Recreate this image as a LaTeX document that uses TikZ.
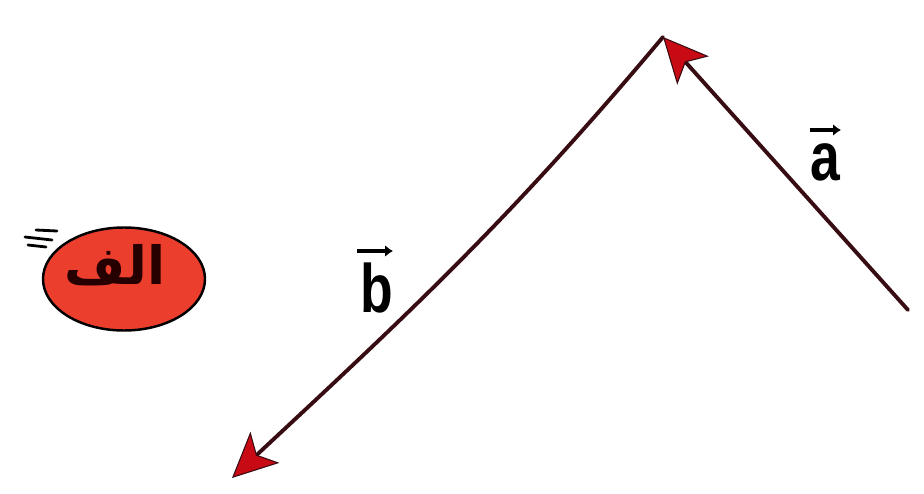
\documentclass[tikz,border=0pt]{standalone}
\usepackage{amsmath}
\usepackage{fontspec}
\usetikzlibrary{arrows.meta,shapes.geometric}
\newfontfamily\arabicfont[Script=Arabic]{DejaVu Sans}
\newfontfamily\labelfont{Liberation Sans}
\TeXXeTstate=1
\definecolor{shaftcol}{RGB}{55,12,18}
\definecolor{headcol}{RGB}{200,10,20}
\definecolor{blobcol}{RGB}{236,62,44}
\tikzset{
  vecline/.style={draw=shaftcol,line width=2.2pt,line cap=round,
    -{Stealth[length=9mm,width=8.5mm,inset=2.2mm,color=shaftcol,fill=headcol,line width=0.6pt]}},
  veclabel/.style={font=\fontsize{39}{40}\selectfont\labelfont\bfseries,text=black,inner sep=0pt},
  vecaccent/.style={line width=2.6pt,-{Latex[length=1.6mm,width=2.4mm]}}
}

\begin{document}
\begin{tikzpicture}[x=0.2mm,y=-0.2mm]
    \useasboundingbox (0,0) rectangle (924,493);
    \coordinate (apex) at (663,37);
    \coordinate (atail) at (908,310);
    \coordinate (bhead) at (232,478);
    \draw[vecline] (atail) -- (apex);
    \draw[vecline] (apex) to[out=230,in=43] (bhead);
    \node[veclabel,anchor=base] (alabel) at (825,180) {\scalebox{0.78}[1]{a}};
    \node[veclabel,anchor=base] (blabel) at (377,312) {\scalebox{0.78}[1]{b}};
    \draw[vecaccent] (810,130) -- (841,130);
    \draw[vecaccent] (357,251) -- (393,251);
    \node[ellipse,draw=black,line width=1.4pt,fill=blobcol,minimum width=162*0.2mm,minimum height=103*0.2mm,inner sep=0pt] (blob) at (124,279) {};
    \node[font=\fontsize{30}{34}\selectfont\arabicfont\bfseries,text=black!85!red,inner sep=0pt] (alef) at (115,265) {\beginR الف\endR};
    \draw[line width=1.6pt,line cap=round] (36,230) -- (57,231);
    \draw[line width=1.6pt,line cap=round] (25,237) -- (52,240);
    \draw[line width=1.6pt,line cap=round] (28,245) -- (46,247);
\end{tikzpicture}
\end{document}
